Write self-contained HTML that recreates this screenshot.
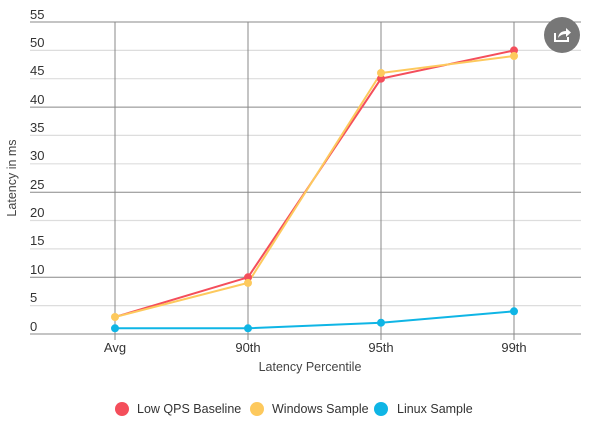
<!DOCTYPE html>
<html><head><style>body{margin:0;background:#fff;}svg{display:block;font-family:"Liberation Sans",sans-serif;}</style></head>
<body>
<svg width="600" height="429" viewBox="0 0 600 429">
<g stroke="#ddd" stroke-width="1.2">
<line x1="30" x2="581" y1="50.4" y2="50.4"/><line x1="30" x2="581" y1="78.7" y2="78.7"/>
<line x1="30" x2="581" y1="135.4" y2="135.4"/><line x1="30" x2="581" y1="163.8" y2="163.8"/>
<line x1="30" x2="581" y1="220.5" y2="220.5"/><line x1="30" x2="581" y1="248.9" y2="248.9"/>
<line x1="30" x2="581" y1="305.6" y2="305.6"/></g>
<g stroke="#888" stroke-width="1">
<line x1="30" x2="581" y1="22" y2="22"/><line x1="30" x2="581" y1="107.1" y2="107.1"/>
<line x1="30" x2="581" y1="192.2" y2="192.2"/><line x1="30" x2="581" y1="277.3" y2="277.3"/>
<line x1="30" x2="581" y1="334" y2="334"/>
<line x1="115" x2="115" y1="22" y2="340"/><line x1="248" x2="248" y1="22" y2="340"/>
<line x1="381" x2="381" y1="22" y2="340"/><line x1="514" x2="514" y1="22" y2="340"/></g>
<g font-size="13" fill="#333">
<text x="30" y="19">55</text><text x="30" y="47">50</text><text x="30" y="75">45</text><text x="30" y="104">40</text>
<text x="30" y="132">35</text><text x="30" y="160">30</text><text x="30" y="189">25</text><text x="30" y="217">20</text>
<text x="30" y="245">15</text><text x="30" y="274">10</text><text x="30" y="302">5</text><text x="30" y="331">0</text></g>
<g font-size="13" fill="#333" text-anchor="middle">
<text x="115" y="352">Avg</text><text x="248" y="352">90th</text><text x="381" y="352">95th</text><text x="514" y="352">99th</text></g>
<text x="310" y="371" font-size="12.5" fill="#444" text-anchor="middle">Latency Percentile</text>
<text transform="translate(16,178) rotate(-90)" font-size="12.5" fill="#444" text-anchor="middle">Latency in ms</text>
<polyline fill="none" stroke="#f44e5b" stroke-width="2" points="115,317 248,277.3 381,78.7 514,50.4"/>
<polyline fill="none" stroke="#fdc95d" stroke-width="2" points="115,317 248,282.9 381,73 514,56"/>
<polyline fill="none" stroke="#0fb5e5" stroke-width="2" points="115,328.3 248,328.3 381,322.7 514,311.3"/>
<g fill="#f44e5b"><circle cx="248" cy="277.3" r="4"/><circle cx="381" cy="78.7" r="4"/><circle cx="514" cy="50.4" r="4"/></g>
<g fill="#fdc95d"><circle cx="115" cy="317" r="4"/><circle cx="248" cy="282.9" r="4"/><circle cx="381" cy="73" r="4"/><circle cx="514" cy="56" r="4"/></g>
<g fill="#0fb5e5"><circle cx="115" cy="328.3" r="4"/><circle cx="248" cy="328.3" r="4"/><circle cx="381" cy="322.7" r="4"/><circle cx="514" cy="311.3" r="4"/></g>
<circle cx="562" cy="35" r="18" fill="#777"/>
<path d="M555 33 v8 h13 v-4" fill="none" stroke="#fff" stroke-width="2"/>
<path d="M558 38 q1 -7 8 -7 v-3 l5 4.5 l-5 4.5 v-3 q-5 0 -8 4z" fill="#fff"/>
<circle cx="122" cy="409" r="7" fill="#f44e5b"/><circle cx="257" cy="409" r="7" fill="#fdc95d"/><circle cx="381" cy="409" r="7" fill="#0fb5e5"/>
<g font-size="12.5" fill="#333"><text x="137" y="413">Low QPS Baseline</text><text x="272" y="413">Windows Sample</text><text x="397" y="413">Linux Sample</text></g>
</svg>
</body></html>
